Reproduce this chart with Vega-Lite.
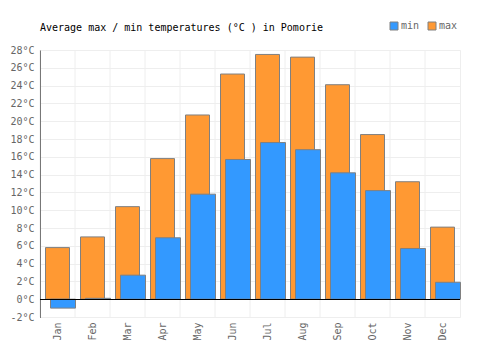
{
  "$schema": "https://vega.github.io/schema/vega-lite/v6.json",
  "width": 420,
  "height": 267,
  "autosize": "none",
  "padding": {"left": 40, "top": 50, "right": 40, "bottom": 33},
  "background": "white",
  "title": {
    "text": "Average max / min temperatures (°C ) in Pomorie",
    "anchor": "start",
    "frame": "group",
    "font": "DejaVu Sans Mono",
    "fontSize": 10,
    "fontWeight": "normal",
    "color": "#000000",
    "offset": -12
  },
  "config": {
    "view": {"stroke": "#eeeeee"},
    "font": "DejaVu Sans Mono"
  },
  "data": {
    "values": [
      {"month": "Jan", "type": "max", "temp": 5.8}, {"month": "Jan", "type": "min", "temp": -1.0},
      {"month": "Feb", "type": "max", "temp": 7.0}, {"month": "Feb", "type": "min", "temp": 0.1},
      {"month": "Mar", "type": "max", "temp": 10.4}, {"month": "Mar", "type": "min", "temp": 2.7},
      {"month": "Apr", "type": "max", "temp": 15.8}, {"month": "Apr", "type": "min", "temp": 6.9},
      {"month": "May", "type": "max", "temp": 20.7}, {"month": "May", "type": "min", "temp": 11.8},
      {"month": "Jun", "type": "max", "temp": 25.3}, {"month": "Jun", "type": "min", "temp": 15.7},
      {"month": "Jul", "type": "max", "temp": 27.5}, {"month": "Jul", "type": "min", "temp": 17.6},
      {"month": "Aug", "type": "max", "temp": 27.2}, {"month": "Aug", "type": "min", "temp": 16.8},
      {"month": "Sep", "type": "max", "temp": 24.1}, {"month": "Sep", "type": "min", "temp": 14.2},
      {"month": "Oct", "type": "max", "temp": 18.5}, {"month": "Oct", "type": "min", "temp": 12.2},
      {"month": "Nov", "type": "max", "temp": 13.2}, {"month": "Nov", "type": "min", "temp": 5.7},
      {"month": "Dec", "type": "max", "temp": 8.1}, {"month": "Dec", "type": "min", "temp": 1.9}
    ]
  },
  "encoding": {
    "x": {
      "field": "month", "type": "nominal", "sort": null,
      "scale": {"paddingInner": 0, "paddingOuter": 0},
      "axis": {
        "title": null, "domain": false, "ticks": false,
        "labelAngle": -90, "labelAlign": "right", "labelBaseline": "middle",
        "labelPadding": 5, "labelFontSize": 10, "labelColor": "#666666",
        "labelFont": "DejaVu Sans Mono", "labelOverlap": false,
        "grid": false
      }
    },
    "y": {
      "field": "temp", "type": "quantitative",
      "scale": {"domain": [-2, 28], "nice": false, "zero": false},
      "axis": {
        "title": null, "values": [-2,0,2,4,6,8,10,12,14,16,18,20,22,24,26,28],
        "labelExpr": "datum.value + '°C'", "labelOverlap": false,
        "domainColor": "#000000", "ticks": false,
        "labelFontSize": 10, "labelColor": "#666666", "labelFont": "DejaVu Sans Mono",
        "labelPadding": 6, "gridColor": "#eeeeee"
      }
    }
  },
  "layer": [
    {
      "transform": [{"filter": "datum.type === 'max'"}],
      "mark": {"type": "rule", "color": "#eeeeee", "strokeWidth": 1},
      "encoding": {
        "x": {"field": "month", "type": "nominal", "sort": null, "bandPosition": 0},
        "y": null
      }
    },
    {
      "transform": [{"filter": "datum.type === 'max'"}],
      "mark": {"type": "bar", "width": 24, "stroke": "#808080", "strokeWidth": 1},
      "encoding": {
        "y2": {"datum": 0},
        "color": {
          "field": "type", "type": "nominal",
          "scale": {"domain": ["min", "max"], "range": ["#3399ff", "#ff9933"]},
          "legend": {
            "title": null, "orient": "none", "direction": "horizontal",
            "legendX": 349, "legendY": -29,
            "symbolType": "square", "symbolSize": 64, "symbolStrokeColor": "#808080",
            "symbolStrokeWidth": 1, "symbolOpacity": 1,
            "labelFontSize": 10, "labelColor": "#666666", "labelFont": "DejaVu Sans Mono",
            "labelOffset": 2, "columnPadding": 6
          }
        }
      }
    },
    {
      "transform": [{"filter": "datum.type === 'min'"}],
      "mark": {"type": "bar", "width": 25, "xOffset": 5.5, "stroke": "#808080", "strokeWidth": 1},
      "encoding": {
        "y2": {"datum": 0},
        "color": {"field": "type", "type": "nominal"}
      }
    },
    {
      "mark": {"type": "rule", "color": "#000000", "strokeWidth": 1, "yOffset": 0.3},
      "encoding": {"y": {"datum": 0}, "x": {"value": 0}, "x2": {"value": 420}}
    }
  ]
}
